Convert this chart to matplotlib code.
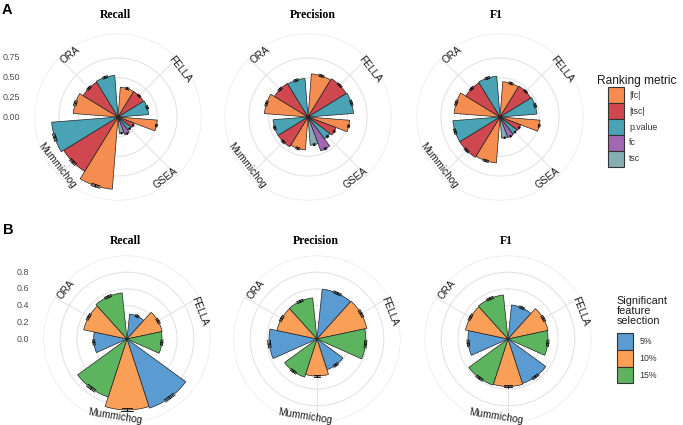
import numpy as np
import matplotlib
matplotlib.use('Agg')
import matplotlib.pyplot as plt
from matplotlib.patches import Rectangle

nan = np.nan

# ---- panel A : ranking metric ----
methods_a = ['FELLA', 'GSEA', 'Mummichog', 'ORA']
ranking = ['|fc|', '|tsc|', 'p.value', 'fc', 'tsc']
ranking_colors = ['#F58D50', '#D0484F', '#4AA3B4', '#A167B2', '#84AEB1']

# rows = method, cols = ranking metric (nan = not run)
recall_a = [[0.38, 0.38, 0.39, nan, nan],
            [0.50, 0.22, 0.21, 0.24, 0.21],
            [0.92, 0.81, 0.845, nan, nan],
            [0.57, 0.52, 0.53, nan, nan]]
precision_a = [[0.55, 0.57, 0.58, nan, nan],
               [0.53, 0.38, 0.35, 0.46, 0.36],
               [0.42, 0.445, 0.445, nan, nan],
               [0.555, 0.50, 0.49, nan, nan]]
f1_a = [[0.45, 0.46, 0.47, nan, nan],
        [0.51, 0.28, 0.27, 0.28, 0.27],
        [0.585, 0.60, 0.60, nan, nan],
        [0.585, 0.51, 0.52, nan, nan]]
recall_a_err = [[0.012, 0.010, 0.012, nan, nan],
                [0.010, 0.008, 0.008, 0.008, 0.008],
                [0.015, 0.015, 0.015, nan, nan],
                [0.015, 0.012, 0.012, nan, nan]]
precision_a_err = [[0.012, 0.010, 0.012, nan, nan],
                   [0.010, 0.010, 0.010, 0.010, 0.010],
                   [0.012, 0.012, 0.012, nan, nan],
                   [0.012, 0.012, 0.012, nan, nan]]
f1_a_err = [[0.012, 0.010, 0.012, nan, nan],
            [0.010, 0.008, 0.008, 0.008, 0.008],
            [0.012, 0.012, 0.012, nan, nan],
            [0.012, 0.012, 0.012, nan, nan]]

# ---- panel B : significant feature selection ----
methods_b = ['FELLA', 'Mummichog', 'ORA']
selection = ['5%', '10%', '15%']
selection_colors = ['#5A9BD1', '#F99F57', '#5DB45F']

recall_b = [[0.30, 0.43, 0.42],
            [0.87, 0.85, 0.73],
            [0.40, 0.53, 0.555]]
precision_b = [[0.60, 0.61, 0.585],
               [0.385, 0.445, 0.48],
               [0.575, 0.49, 0.495]]
f1_b = [[0.41, 0.49, 0.48],
        [0.56, 0.57, 0.58],
        [0.48, 0.52, 0.53]]
recall_b_err = [[0.012, 0.012, 0.012],
                [0.015, 0.015, 0.015],
                [0.012, 0.012, 0.012]]
precision_b_err = [[0.012, 0.012, 0.012],
                   [0.012, 0.012, 0.012],
                   [0.015, 0.012, 0.012]]
f1_b_err = [[0.012, 0.012, 0.012],
            [0.012, 0.012, 0.012],
            [0.012, 0.012, 0.012]]

ticks_a = [0.0, 0.25, 0.5, 0.75]
ticks_b = [0.0, 0.2, 0.4, 0.6, 0.8]

W, H = 683, 425
fig = plt.figure(figsize=(W / 100, H / 100), dpi=100)
fig.patch.set_facecolor('white')

grid_col = '#E4E4E4'
RAD = 83.5  # outer circle radius in px


def polar_panel(cx, cy, methods, values, errors, colors, rmax, breaks, shift):
    ax = fig.add_axes([(cx - RAD) / W, 1 - (cy + RAD) / H, 2 * RAD / W, 2 * RAD / H],
                      projection='polar')
    ax.set_theta_zero_location('N')
    ax.set_theta_direction(-1)
    R = rmax * 0.45 / 0.4
    ax.set_ylim(0, R)
    ax.grid(False)
    ax.spines['polar'].set_visible(False)
    ax.set_xticks([])
    ax.set_yticks([])

    n = len(methods)
    sector = 2 * np.pi / n
    th = np.linspace(0, 2 * np.pi, 361)
    for b in list(breaks[1:]) + [R]:
        ax.plot(th, np.full_like(th, b), color=grid_col, lw=0.8, zorder=0)
    for i in range(n):
        ax.plot([i * sector + sector / 2] * 2, [0, R], color=grid_col, lw=0.8, zorder=0)

    for i, name in enumerate(methods):
        vals = values[i]
        errs = errors[i]
        idx = [j for j in range(len(vals)) if not np.isnan(vals[j])]
        w = 0.9 * sector / len(idx)
        start = i * sector + 0.05 * sector
        for m, j in enumerate(idx):
            t = start + (m + 0.5) * w
            v = vals[j]
            e = errs[j]
            ax.bar(t, v, width=w, bottom=0, color=colors[j], edgecolor='#222222',
                   linewidth=0.5, zorder=2)
            cw = 0.25 * w
            ax.plot([t, t], [v - e, v + e], color='black', lw=0.6, zorder=3)
            for rr in (v - e, v + e):
                ax.plot([t - cw / 2, t + cw / 2], [rr, rr], color='black', lw=0.6, zorder=3)

        lt = i * sector + sector / 2 + np.deg2rad(shift)
        rot = -np.rad2deg(lt)
        while rot <= -90:
            rot += 180
        while rot > 90:
            rot -= 180
        ax.text(lt, 0.935 * R, name, rotation=rot, rotation_mode='anchor',
                ha='center', va='center', fontsize=7.2, color='#1A1A1A',
                family='Liberation Sans', clip_on=False, zorder=4)
    return ax


def y_labels(ax, breaks, fmt):
    for b in breaks:
        ax.annotate(fmt % b, xy=(0, b), xycoords='data', xytext=(-97.5, 0),
                    textcoords='offset pixels', ha='right', va='center',
                    fontsize=6.4, color='#4D4D4D', family='Liberation Sans')


# row A
centers_a = [(118, 117), (308, 117), (500, 117)]
data_a = [(recall_a, recall_a_err), (precision_a, precision_a_err), (f1_a, f1_a_err)]
axes_a = []
for (cx, cy), (v, e) in zip(centers_a, data_a):
    axes_a.append(polar_panel(cx, cy, methods_a, v, e, ranking_colors, 0.943, ticks_a, 7))
y_labels(axes_a[0], ticks_a, '%.2f')

# row B
centers_b = [(127, 339), (317, 339), (508, 339)]
data_b = [(recall_b, recall_b_err), (precision_b, precision_b_err), (f1_b, f1_b_err)]
axes_b = []
for (cx, cy), (v, e) in zip(centers_b, data_b):
    axes_b.append(polar_panel(cx, cy, methods_b, v, e, selection_colors, 0.889, ticks_b, 9))
y_labels(axes_b[0], ticks_b, '%.1f')

# titles
titles = ['Recall', 'Precision', 'F1']
for t, x in zip(titles, [115, 313, 496]):
    fig.text(x / W, 1 - 14.7 / H, t, ha='center', va='center', fontsize=8.5,
             weight='bold', family='Liberation Serif')
for t, x in zip(titles, [125, 316, 506]):
    fig.text(x / W, 1 - 240.7 / H, t, ha='center', va='center', fontsize=8.5,
             weight='bold', family='Liberation Serif')

fig.text(6.7 / W, 1 - 9.5 / H, 'A', ha='center', va='center', fontsize=10.5,
         weight='bold', family='Liberation Sans')
fig.text(8 / W, 1 - 230 / H, 'B', ha='center', va='center', fontsize=10.5,
         weight='bold', family='Liberation Sans')


# legends
def legend(x_title, y_title, title, title_size, x_key, y_key, kh, labels, colors, x_lab):
    fig.text(x_title / W, 1 - y_title / H, title, ha='left', va='center',
             fontsize=title_size, color='#1A1A1A', family='Liberation Sans',
             linespacing=1.05)
    for k, (lab, col) in enumerate(zip(labels, colors)):
        y0 = y_key + k * kh
        fig.add_artist(Rectangle((x_key / W, 1 - (y0 + kh) / H), 15.8 / W, kh / H,
                                 transform=fig.transFigure, facecolor=col,
                                 edgecolor='#333333', linewidth=0.8))
        fig.text(x_lab / W, 1 - (y0 + kh / 2) / H, lab, ha='left', va='center',
                 fontsize=6.3, color='#333333', family='Liberation Sans')


legend(597.3, 81, 'Ranking metric', 8.6, 608.3, 87.3, 15.9, ranking, ranking_colors, 629)
legend(616.7, 311, 'Significant\nfeature\nselection', 7.8, 617.3, 333.3, 16.7,
       selection, selection_colors, 639.3)

fig.savefig('out.png', dpi=100)
